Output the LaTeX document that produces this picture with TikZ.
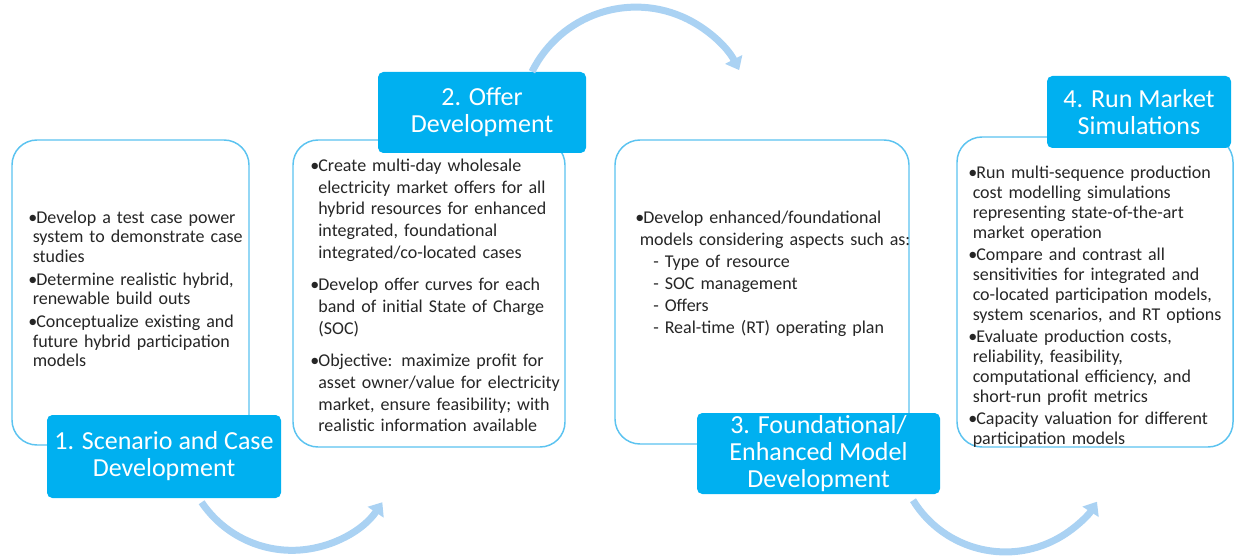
\documentclass[tikz,border=0pt]{standalone}
\usepackage{fontspec}
\setmainfont{Carlito}
\usepackage{tikz}
\usetikzlibrary{arrows.meta}

\definecolor{boxline}{RGB}{91,195,240}
\definecolor{titlefill}{RGB}{0,176,240}
\definecolor{arrowblue}{RGB}{170,210,243}
\definecolor{bodytext}{RGB}{38,38,38}

% one bullet point with hanging indent
\newcommand{\bitem}[2][0.25em]{\par\hangindent=#1\hangafter=1\noindent\makebox[0.45em][l]{\textbullet}#2\par}

\begin{document}
\begin{tikzpicture}[x=0.75pt,y=-0.75pt,
  panel/.style={draw=boxline, line width=1.1pt, rounded corners=18.75pt, fill=white},
  title/.style={fill=titlefill, rounded corners=4pt, text=white, align=center,
    font=\fontsize{19.5}{20.25}\selectfont, inner sep=0pt},
  points/.style={anchor=west, inner sep=0pt, text=bodytext, align=left, text width=260pt},
  loop arrow/.style={line width=5.25pt, arrowblue, -{Triangle[length=9pt,width=14pt]}}]

\useasboundingbox (0,0) rectangle (1238,559);

% panels
\node[panel, minimum width=177.75pt, minimum height=228.75pt] (b1) at (130.5,292.5) {};
\node[panel, minimum width=204pt, minimum height=230.25pt] (b2) at (429,293.5) {};
\node[panel, minimum width=220.5pt, minimum height=228pt] (b3) at (762,292) {};
\node[panel, minimum width=207pt, minimum height=232.5pt] (b4) at (1095,292) {};

% bullet lists
\node[points, font=\fontsize{13.5}{14.5}\selectfont] (l1) at (28,283.5) {%
  \setlength{\parskip}{2.8pt}%
  \bitem{Develop a test case power\newline system to demonstrate case\newline studies}
  \bitem{Determine realistic hybrid,\newline renewable build outs}
  \bitem{Conceptualize existing and\newline future hybrid participation\newline models}};

\node[points, font=\fontsize{13.5}{16.3}\selectfont] (l2) at (310,285.5) {%
  \setlength{\parskip}{8pt}%
  \bitem[0.45em]{Create multi-day wholesale\newline electricity market offers for all\newline
    hybrid resources for enhanced\newline integrated, foundational\newline
    integrated/co-located cases}
  \bitem[0.45em]{Develop offer curves for each\newline band of initial State of Charge\newline (SOC)}
  \bitem[0.45em]{Objective: maximize profit for\newline asset owner/value for electricity\newline
    market, ensure feasibility; with\newline realistic information available}};

\node[points, font=\fontsize{13.5}{16.5}\selectfont] (l3) at (635,269) {%
  \bitem{Develop enhanced/foundational\newline models considering aspects such as:\newline
    \hspace*{0.75em}- Type of resource\newline
    \hspace*{0.75em}- SOC management\newline
    \hspace*{0.75em}- Offers\newline
    \hspace*{0.75em}- Real-time (RT) operating plan}};

\node[points, font=\fontsize{13.5}{15}\selectfont] (l4) at (968,302) {%
  \setlength{\parskip}{1.5pt}%
  \bitem{Run multi-sequence production\newline cost modelling simulations\newline
    representing state-of-the-art\newline market operation}
  \bitem{Compare and contrast all\newline sensitivities for integrated and\newline
    co-located participation models,\newline system scenarios, and RT options}
  \bitem{Evaluate production costs,\newline reliability, feasibility,\newline
    computational efficiency, and\newline short-run profit metrics}
  \bitem{Capacity valuation for different\newline participation models}};

% step titles
\node[title, minimum width=175.5pt, minimum height=62.25pt] (t1) at (164,456.5)
  {1. Scenario and Case\\Development};
\node[title, minimum width=156pt, minimum height=60.75pt] (t2) at (482,112.5)
  {2. Offer\\Development};
\node[title, minimum width=182.25pt, minimum height=60.75pt] (t3) at (818.5,453.5)
  {3. Foundational/\\Enhanced Model\\Development};
\node[title, minimum width=138pt, minimum height=54pt] (t4) at (1139,112)
  {4. Run Market\\Simulations};

% curved arrows between the steps
\draw[loop arrow] ([shift={(37.6,4)}]t1.south) arc[start angle=214, end angle=326, radius=81.75pt];
\draw[loop arrow] ([shift={(50,0)}]t2.north) arc[start angle=153.7, end angle=27.2, radius=87pt];
\draw[loop arrow] ([shift={(94.5,6)}]t3.south) arc[start angle=211.6, end angle=327.5, radius=81.4pt];

\end{tikzpicture}
\end{document}
